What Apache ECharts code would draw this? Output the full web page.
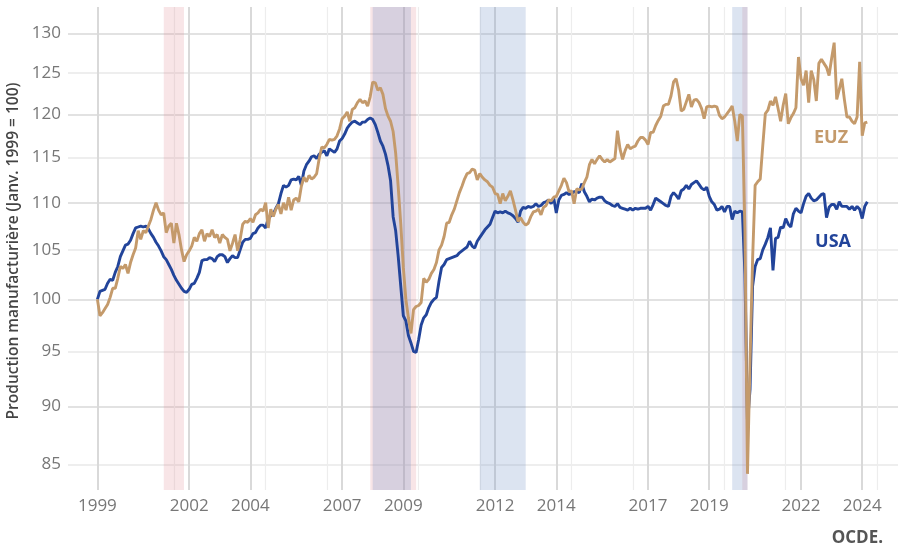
<!DOCTYPE html>
<html><head><meta charset="utf-8">
<script src="https://cdn.jsdelivr.net/npm/echarts@6/dist/echarts.min.js"></script>
<style>html,body{margin:0;padding:0;background:#fff}#chart{width:899px;height:547px}</style>
</head><body><div id="chart"></div>
<script>
// Monthly index, Jan 1999 = 100, first value = Jan 1999
const startYear = 1999;
const usaValues = [
100.0,100.8,100.9,101.0,101.6,102.0,101.9,102.7,103.3,104.3,104.9,105.5,
105.6,106.0,106.7,107.3,107.4,107.5,107.4,107.5,107.2,106.7,106.3,105.8,
105.4,104.9,104.3,104.0,103.5,103.0,102.4,101.9,101.5,101.1,100.8,100.7,
101.0,101.5,101.6,102.1,102.7,103.9,104.0,104.0,104.2,104.1,103.8,104.3,
104.5,104.5,104.3,103.7,104.1,104.4,104.2,104.2,105.0,105.8,106.1,106.1,
106.2,106.7,106.8,107.3,107.6,107.6,107.3,108.3,108.6,108.8,109.4,109.9,
111.0,111.9,111.7,111.9,112.5,112.6,112.5,112.9,111.9,113.5,114.2,114.6,
115.1,115.2,114.9,115.4,115.6,115.8,115.2,116.0,115.8,115.6,116.0,116.9,
117.2,117.7,118.4,118.8,119.1,119.2,119.0,118.8,119.1,119.1,119.4,119.6,
119.4,118.8,117.9,116.9,116.3,115.4,114.1,112.4,108.5,107.0,104.3,101.3,
98.4,97.9,96.5,95.8,95.0,94.9,96.1,97.5,98.2,98.5,99.2,99.7,
100.0,100.2,101.8,103.2,103.5,104.0,104.1,104.2,104.3,104.4,104.7,104.9,
105.1,105.3,105.9,105.4,105.2,105.9,106.3,106.7,107.1,107.4,107.7,108.4,
109.1,108.9,109.0,108.9,109.1,108.9,108.8,108.6,108.3,107.9,109.1,109.5,
109.4,109.6,109.5,109.6,109.9,109.6,109.7,110.0,110.1,110.3,109.9,110.5,
108.9,110.3,110.8,110.9,111.1,110.9,111.0,111.2,111.2,111.1,112.1,111.2,
110.7,110.1,110.4,110.3,110.5,110.6,110.6,110.2,110.0,109.9,109.7,109.6,
109.9,109.5,109.4,109.3,109.2,109.4,109.2,109.4,109.3,109.4,109.4,109.4,
109.6,109.2,109.8,110.5,110.3,110.1,109.9,109.7,109.6,110.7,111.1,110.8,
110.4,111.3,111.5,111.9,111.5,112.0,112.2,112.4,112.0,111.6,111.4,111.7,
110.7,110.1,109.8,109.2,109.3,109.6,109.0,109.6,109.6,108.2,109.1,108.9,
109.1,109.0,102.5,88.5,91.5,101.3,103.3,104.0,104.1,105.0,105.6,106.3,
107.3,102.9,106.2,106.3,107.4,107.3,108.3,107.7,107.4,108.8,109.4,109.1,
108.9,109.9,110.7,111.0,110.5,110.2,110.3,110.6,110.9,111.0,108.4,109.5,
109.8,109.8,109.3,110.1,109.6,109.6,109.6,109.3,109.6,109.2,109.6,109.3,
108.3,109.6,110.1
];
const euzValues = [
100.0,98.4,98.7,99.1,99.5,100.2,101.1,101.1,102.1,103.3,103.1,103.5,
102.6,103.7,104.5,105.2,107.0,106.1,107.0,106.8,107.5,108.2,109.2,110.0,
109.2,108.7,108.9,106.8,107.5,107.8,105.7,107.8,106.6,105.0,103.8,104.5,
104.9,105.4,106.3,105.9,106.7,107.1,105.9,106.7,106.4,107.1,106.3,106.6,
105.7,106.6,106.3,106.1,104.9,105.7,106.6,104.9,106.1,107.7,108.0,107.9,
108.3,107.9,108.7,108.9,109.3,109.1,110.0,107.3,109.3,108.5,109.3,109.8,
108.8,110.0,109.2,110.6,109.2,110.3,110.5,110.1,111.8,112.8,112.3,113.0,
112.6,112.8,113.2,114.9,116.2,116.1,116.5,117.1,117.0,117.1,117.5,118.3,
119.5,119.8,120.3,119.2,120.6,120.8,121.4,121.8,121.4,121.6,121.0,122.1,
123.9,123.8,122.9,123.2,122.4,120.7,119.8,119.2,118.0,115.5,111.7,107.7,
103.2,100.0,98.2,96.7,99.0,99.3,99.4,99.7,102.1,101.7,102.0,102.6,
103.0,103.7,105.0,105.5,106.4,107.8,107.9,108.7,109.3,110.2,111.1,111.8,
112.6,113.2,113.3,113.7,113.6,112.5,113.2,112.8,112.5,112.3,111.9,111.7,
111.0,110.9,109.9,111.0,110.2,110.7,111.3,110.3,109.2,108.0,108.4,107.9,
107.6,107.8,108.5,109.0,109.1,109.3,108.7,109.5,109.7,110.3,110.2,110.6,
110.7,111.3,111.9,112.7,112.2,111.2,111.3,109.9,111.5,111.4,111.5,112.2,
112.8,114.2,114.8,114.3,114.8,115.2,114.8,114.5,114.8,114.5,114.7,114.9,
118.1,116.0,114.8,115.8,116.5,116.0,116.2,116.3,116.9,117.3,117.3,117.0,
116.5,117.9,117.9,118.7,119.3,119.8,121.0,121.2,121.2,122.2,123.9,124.3,
122.9,120.4,120.6,121.5,122.4,120.9,121.7,121.8,121.4,120.7,119.5,120.9,
121.0,120.9,121.0,120.9,119.9,119.5,119.7,120.1,120.5,121.0,119.2,116.9,
120.0,119.8,107.0,84.2,94.0,104.0,111.9,112.3,112.6,116.4,120.1,120.5,
121.6,121.1,122.1,120.7,119.2,121.1,122.5,118.9,119.6,120.1,120.8,127.0,
124.3,123.5,125.3,121.4,125.3,124.2,121.6,126.2,126.7,126.2,125.7,124.7,
126.8,128.8,121.8,123.0,124.3,121.8,119.7,119.7,119.2,118.9,119.7,126.4,
117.5,119.0,119.1
];
const xMajorTicks = [1999, 2002, 2004, 2007, 2009, 2012, 2014, 2017, 2019, 2022, 2024];
const xMinorTicks = [2001.5, 2004.5, 2006.5, 2009.5, 2011.5, 2014.5, 2016.5, 2019.5, 2021.5, 2024.5];
const yTicks = [85, 90, 95, 100, 105, 110, 115, 120, 125, 130];
const usRecessions = [[2001.17, 2001.83], [2007.92, 2009.42], [2020.08, 2020.25]];
const euRecessions = [[2008.0, 2009.25], [2011.5, 2013.0], [2019.75, 2020.25]];
const seriesNames = ['USA', 'EUZ'];
const yTitle = 'Production manufacturière (Janv. 1999 = 100)';
const sourceText = 'OCDE.';

const FONT = '"Open Sans", "Noto Sans", sans-serif';
const toPoints = vals => vals.map((v, i) => [startYear + i / 12, Math.log(v)]);
const bands = (list, color) => list.map(([a, b]) => [{ xAxis: a, itemStyle: { color } }, { xAxis: b }]);

const chart = echarts.init(document.getElementById('chart'), null, { renderer: 'canvas' });
const xMin = 1998.039, xMax = 2025.17;
chart.setOption({
  animation: false,
  backgroundColor: '#ffffff',
  grid: { left: 68, right: 1, top: 7, bottom: 57, containLabel: false },
  xAxis: [
    {
      type: 'value', min: xMin, max: xMax,
      axisLine: { show: false },
      axisTick: { show: false, customValues: xMajorTicks },
      axisLabel: {
        customValues: xMajorTicks, formatter: v => String(Math.round(v)),
        color: '#777', fontSize: 17, fontFamily: FONT, margin: 8
      },
      splitLine: { show: true, lineStyle: { color: '#d9d9d9', width: 2 } }
    },
    {
      type: 'value', min: xMin, max: xMax, gridIndex: 0, position: 'bottom',
      axisLine: { show: false },
      axisTick: { show: false, customValues: xMinorTicks },
      axisLabel: { show: false },
      splitLine: { show: true, lineStyle: { color: '#ededed', width: 1.2 } }
    }
  ],
  yAxis: {
    type: 'value', min: Math.log(82.87), max: Math.log(133.41),
    axisLine: { show: false },
    axisTick: { show: false, customValues: yTicks.map(Math.log) },
    axisLabel: {
      customValues: yTicks.map(Math.log), formatter: v => String(Math.round(Math.exp(v))),
      color: '#777', fontSize: 17, fontFamily: FONT, margin: 7
    },
    splitLine: { show: true, lineStyle: { color: ['#e8e8e8', '#d9d9d9'], width: 1.6 } }
  },
  series: [
    {
      name: 'usRec', type: 'line', data: [], z: 1, silent: true,
      markArea: { silent: true, data: bands(usRecessions, 'rgba(222,135,145,0.22)') }
    },
    {
      name: 'euRec', type: 'line', data: [], z: 1, silent: true,
      markArea: { silent: true, data: bands(euRecessions, 'rgba(120,150,200,0.26)') }
    },
    {
      name: seriesNames[0], type: 'line', data: toPoints(usaValues), z: 3,
      showSymbol: false, lineStyle: { color: '#22449a', width: 2.9 }, itemStyle: { color: '#22449a' }
    },
    {
      name: seriesNames[1], type: 'line', data: toPoints(euzValues), z: 4,
      showSymbol: false, lineStyle: { color: '#c49a6b', width: 2.9 }, itemStyle: { color: '#c49a6b' }
    }
  ],
  graphic: [
    { type: 'text', x: 14, y: 251, rotation: Math.PI / 2,
      style: { text: yTitle, font: '600 15.5px ' + FONT, fill: '#444', align: 'center', verticalAlign: 'middle' } },
    { type: 'text', x: 831, y: 138,
      style: { text: seriesNames[1], font: 'bold 18px ' + FONT, fill: '#c49a6b', align: 'center', verticalAlign: 'middle' } },
    { type: 'text', x: 833, y: 242,
      style: { text: seriesNames[0], font: 'bold 18px ' + FONT, fill: '#22449a', align: 'center', verticalAlign: 'middle' } },
    { type: 'text', x: 883, y: 538,
      style: { text: sourceText, font: 'bold 17px ' + FONT, fill: '#555', align: 'right', verticalAlign: 'middle' } }
  ]
});
</script>
</body></html>
